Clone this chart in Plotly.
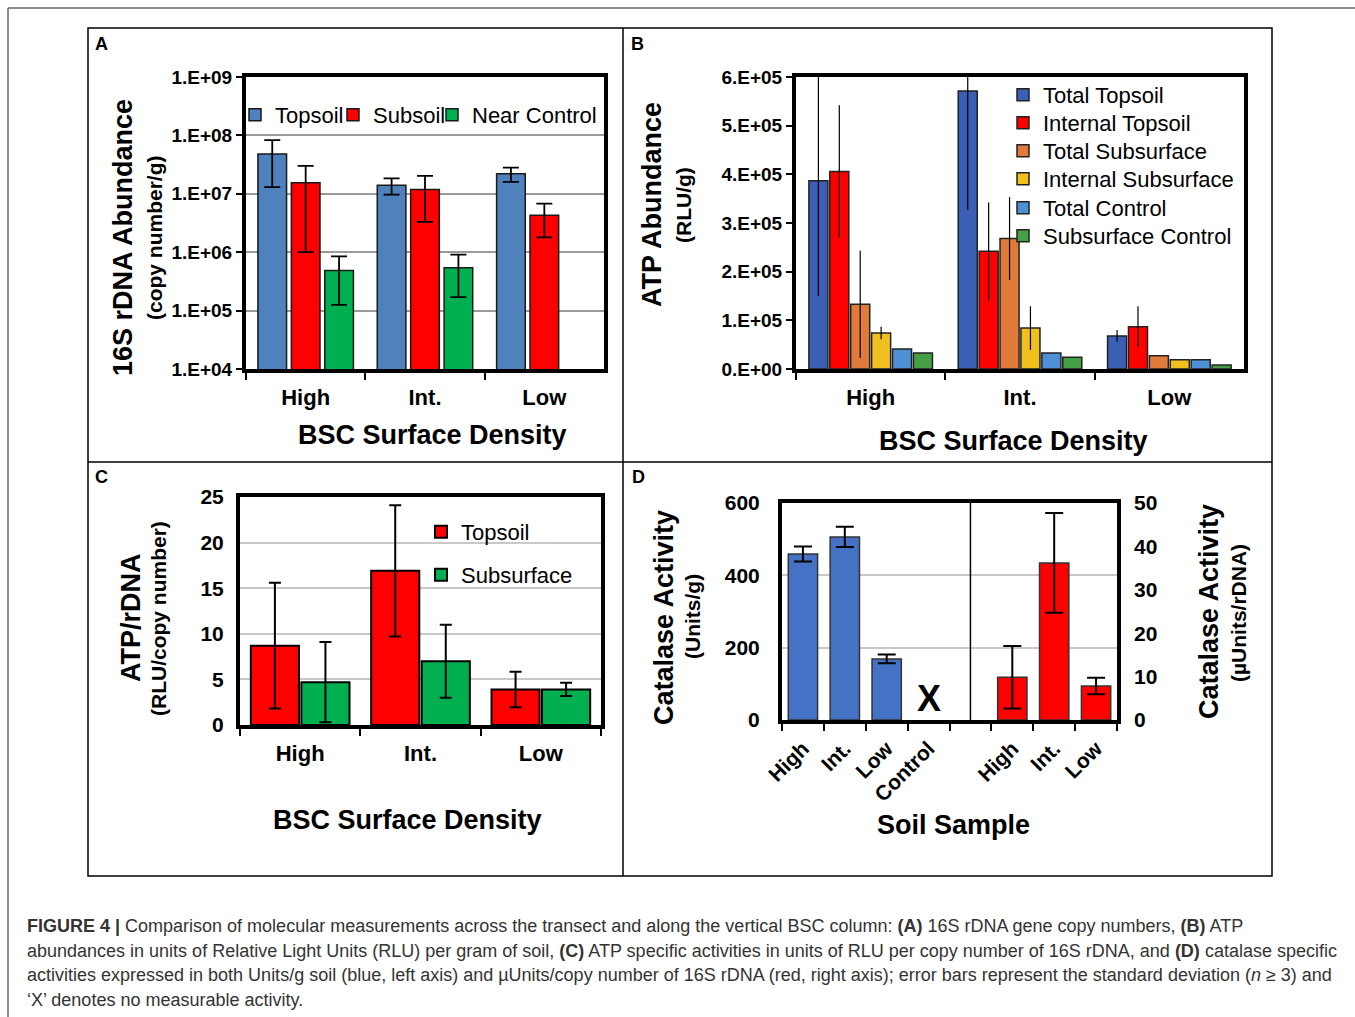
import plotly.graph_objects as go

W, H = 1355, 1017
def fx(px): return px / W
def fy(py): return 1 - py / H

FONT = "Liberation Sans, Arial, Helvetica, sans-serif"

# ---------------- data ----------------
densities = ["High", "Int.", "Low"]

# Panel A: 16S rDNA abundance (copy number / g)
a_names = ["Topsoil", "Subsoil", "Near Control"]
a_topsoil = [4.8e7, 1.4e7, 2.2e7]
a_topsoil_sd = [3.5e7, 4.3e6, 6.0e6]
a_subsoil = [1.55e7, 1.18e7, 4.3e6]
a_subsoil_sd = [1.45e7, 8.5e6, 2.5e6]
a_control = [4.85e5, 5.4e5, None]
a_control_sd = [3.6e5, 3.7e5, 0]
a_tickvals = [1e4, 1e5, 1e6, 1e7, 1e8, 1e9]
a_ticktext = ["1.E+04", "1.E+05", "1.E+06", "1.E+07", "1.E+08", "1.E+09"]

# Panel B: ATP abundance (RLU / g)
b_names = ["Total Topsoil", "Internal Topsoil", "Total Subsurface",
           "Internal Subsurface", "Total Control", "Subsurface Control"]
b_total_topsoil = [387000, 571000, 68000]
b_total_topsoil_sd = [237000, 244000, 12000]
b_internal_topsoil = [406000, 242000, 87000]
b_internal_topsoil_sd = [136000, 100000, 42000]
b_total_subsurface = [133000, 268000, 27000]
b_total_subsurface_sd = [110000, 85000, 0]
b_internal_subsurface = [74000, 84000, 19000]
b_internal_subsurface_sd = [13000, 45000, 0]
b_total_control = [41000, 33000, 19000]
b_total_control_sd = [0, 0, 0]
b_subsurface_control = [33000, 24000, 8000]
b_subsurface_control_sd = [0, 0, 0]
b_tickvals = [0, 100000, 200000, 300000, 400000, 500000, 600000]
b_ticktext = ["0.E+00", "1.E+05", "2.E+05", "3.E+05", "4.E+05", "5.E+05", "6.E+05"]

# Panel C: ATP / rDNA (RLU / copy number)
c_names = ["Topsoil", "Subsurface"]
c_topsoil = [8.7, 16.9, 3.9]
c_topsoil_sd = [6.9, 7.2, 1.95]
c_subsurface = [4.7, 7.0, 3.9]
c_subsurface_sd = [4.4, 4.0, 0.73]

# Panel D: catalase activity
d_labels = ["High", "Int.", "Low", "Control", "", "High", "Int.", "Low"]
d_units_g = [459, 506, 169, None]          # High, Int., Low, Control (X)
d_units_g_sd = [21, 28, 12, 0]
d_units_rdna = [9.85, 36.2, 7.85]          # High, Int., Low
d_units_rdna_sd = [7.2, 11.5, 1.9]

# ---------------- styles ----------------
A_COLORS = ["#4f81bd", "#ff0000", "#00b050"]
B_COLORS = ["#3a5fb5", "#ff0000", "#e07b39", "#f2c01e", "#4e8fd6", "#45a045"]
C_COLORS = ["#ff0000", "#00b050"]
D_COLORS = ["#4472c4", "#ff0000"]

# legend entry placement (text start x, text centre y), in page pixels
A_LEG_POS = [(276, 115), (374, 115), (473, 115)]
B_LEG_POS = [(1044, 95), (1044, 123), (1044, 151), (1044, 179), (1044, 208), (1044, 236)]
C_LEG_POS = [(462, 532), (462, 575)]
LEG_FONT = 22

fig = go.Figure()
legends = {}
leg_count = [0]

def new_legend(pos):
    leg_count[0] += 1
    lid = "legend" if leg_count[0] == 1 else "legend%d" % leg_count[0]
    tx, ty = pos
    legends[lid] = dict(x=fx(tx - 41), y=fy(ty), xanchor="left", yanchor="middle",
                        orientation="v", itemwidth=30,
                        font=dict(family=FONT, size=LEG_FONT, color="black"),
                        bgcolor="rgba(0,0,0,0)", borderwidth=0)
    return lid

# Panel A
for name, vals, sd, col, pos in zip(a_names, [a_topsoil, a_subsoil, a_control],
                                    [a_topsoil_sd, a_subsoil_sd, a_control_sd],
                                    A_COLORS, A_LEG_POS):
    fig.add_trace(go.Bar(
        x=densities, y=vals, name=name, xaxis="x", yaxis="y", legend=new_legend(pos),
        width=0.24,
        marker=dict(color=col, line=dict(color="#1a1a1a", width=1.5)),
        error_y=dict(type="data", array=sd, color="black", thickness=1.8, width=8),
    ))

# Panel B
b_vals = [b_total_topsoil, b_internal_topsoil, b_total_subsurface,
          b_internal_subsurface, b_total_control, b_subsurface_control]
b_sds = [b_total_topsoil_sd, b_internal_topsoil_sd, b_total_subsurface_sd,
         b_internal_subsurface_sd, b_total_control_sd, b_subsurface_control_sd]
for name, vals, sd, col, pos in zip(b_names, b_vals, b_sds, B_COLORS, B_LEG_POS):
    fig.add_trace(go.Bar(
        x=densities, y=vals, name=name, xaxis="x2", yaxis="y2", legend=new_legend(pos),
        marker=dict(color=col, line=dict(color="#222222", width=1.5)),
        error_y=dict(type="data", array=sd, color="black", thickness=1.2, width=0),
    ))

# Panel C
for name, vals, sd, col, pos in zip(c_names, [c_topsoil, c_subsurface],
                                    [c_topsoil_sd, c_subsurface_sd], C_COLORS, C_LEG_POS):
    fig.add_trace(go.Bar(
        x=densities, y=vals, name=name, xaxis="x3", yaxis="y3", legend=new_legend(pos),
        width=0.40,
        marker=dict(color=col, line=dict(color="black", width=2)),
        error_y=dict(type="data", array=sd, color="black", thickness=2, width=6),
    ))

# Panel D
d_slots = list(range(len(d_labels)))
fig.add_trace(go.Bar(
    x=d_slots[0:4], y=d_units_g, name="Units/g", xaxis="x4", yaxis="y4",
    showlegend=False, width=0.7,
    marker=dict(color=D_COLORS[0], line=dict(color="#333333", width=1.5)),
    error_y=dict(type="data", array=d_units_g_sd, color="black", thickness=2, width=9),
))
fig.add_trace(go.Bar(
    x=d_slots[5:8], y=d_units_rdna, name="µUnits/rDNA", xaxis="x4", yaxis="y5",
    showlegend=False, width=0.7,
    marker=dict(color=D_COLORS[1], line=dict(color="#333333", width=1.5)),
    error_y=dict(type="data", array=d_units_rdna_sd, color="black", thickness=2, width=9),
))

# ---------------- axes ----------------
tickfont = dict(family=FONT, size=22, color="black", weight="bold")
ytickfont = dict(family=FONT, size=19, color="black", weight="bold")
frame = dict(showline=True, linewidth=4, linecolor="black", mirror=True)

layout = dict(
    width=W, height=H, autosize=False,
    margin=dict(l=0, r=0, t=0, b=0, pad=0, autoexpand=False),
    paper_bgcolor="white", plot_bgcolor="white",
    barmode="group", bargap=0.16, bargroupgap=0.09,
    font=dict(family=FONT, color="black"),
    xaxis=dict(domain=[fx(246), fx(604)], anchor="y", type="category",
               tickson="boundaries", ticks="outside", ticklen=7, tickwidth=2,
               tickcolor="black", tickfont=tickfont,
               ticklabelstandoff=6, **frame),
    yaxis=dict(domain=[fy(369), fy(77)], anchor="x", type="log", range=[4, 9],
               tickmode="array", tickvals=a_tickvals, ticktext=a_ticktext,
               showgrid=True, gridcolor="#9a9a9a", gridwidth=1.5,
               ticks="outside", ticklen=6, tickwidth=2, tickcolor="black",
               tickfont=ytickfont, **frame),
    xaxis2=dict(domain=[fx(796), fx(1244)], anchor="y2", type="category",
                tickson="boundaries", ticks="outside", ticklen=7, tickwidth=2,
                tickcolor="black", tickfont=tickfont,
                ticklabelstandoff=6, **frame),
    yaxis2=dict(domain=[fy(369), fy(77)], anchor="x2", range=[0, 600000],
                tickmode="array", tickvals=b_tickvals, ticktext=b_ticktext,
                showgrid=False, zeroline=False,
                ticks="outside", ticklen=6, tickwidth=2, tickcolor="black",
                tickfont=ytickfont, **frame),
    xaxis3=dict(domain=[fx(240), fx(601)], anchor="y3", type="category",
                tickson="boundaries", ticks="outside", ticklen=7, tickwidth=2,
                tickcolor="black", tickfont=tickfont,
                ticklabelstandoff=6, **frame),
    yaxis3=dict(domain=[fy(725), fy(497)], anchor="x3", range=[0, 25], dtick=5,
                showgrid=True, gridcolor="#c8c8c8", gridwidth=1.5, zeroline=False,
                ticks="", tickfont=dict(ytickfont, size=21), ticklabelstandoff=8,
                **frame),
    xaxis4=dict(domain=[fx(782), fx(1117)], anchor="y4", range=[-0.5, 7.5],
                tickmode="array", tickvals=d_slots, ticktext=d_labels,
                tickangle=-45, ticks="", showgrid=False, zeroline=False,
                minor=dict(tick0=0.5, dtick=1, ticks="outside", ticklen=7,
                           tickwidth=2, tickcolor="black", showgrid=False),
                tickfont=dict(tickfont, size=21), ticklabelstandoff=4, **frame),
    yaxis4=dict(domain=[fy(720), fy(503)], anchor="x4", range=[0, 600], dtick=200,
                showgrid=True, gridcolor="#c8c8c8", gridwidth=1.5, zeroline=False,
                ticks="", tickfont=dict(ytickfont, size=21), ticklabelstandoff=14,
                **frame),
    yaxis5=dict(overlaying="y4", side="right", anchor="x4", range=[0, 50], dtick=10,
                showgrid=False, zeroline=False, ticks="",
                tickfont=dict(ytickfont, size=21), ticklabelstandoff=16),
)
layout.update(legends)
fig.update_layout(**layout)

# ---------------- shapes ----------------
shapes = [
    # outer image frame (top and left edges)
    dict(type="line", xref="paper", yref="paper", x0=fx(8), x1=1, y0=fy(8), y1=fy(8),
         line=dict(color="#666666", width=1.5)),
    dict(type="line", xref="paper", yref="paper", x0=fx(8), x1=fx(8), y0=fy(8), y1=0,
         line=dict(color="#666666", width=1.5)),
    # panel grid
    dict(type="rect", xref="paper", yref="paper", x0=fx(88), x1=fx(1272), y0=fy(876),
         y1=fy(28), line=dict(color="black", width=1.5)),
    dict(type="line", xref="paper", yref="paper", x0=fx(623), x1=fx(623), y0=fy(876),
         y1=fy(28), line=dict(color="black", width=1.5)),
    dict(type="line", xref="paper", yref="paper", x0=fx(88), x1=fx(1272), y0=fy(462),
         y1=fy(462), line=dict(color="black", width=1.5)),
    # divider inside panel D
    dict(type="line", xref="x4", yref="y4 domain", x0=d_slots[4], x1=d_slots[4],
         y0=0, y1=1, line=dict(color="black", width=1.5)),
]
fig.update_layout(shapes=shapes)

# ---------------- annotations ----------------
ann = []
def text(x, y, t, size, bold=True, angle=0, xanchor="center", yanchor="middle",
         color="black", ref="paper", xref=None, yref=None):
    ann.append(dict(x=x, y=y, text=t, showarrow=False, textangle=angle,
                    xanchor=xanchor, yanchor=yanchor,
                    xref=xref or ref, yref=yref or ref,
                    font=dict(family=FONT, size=size, color=color,
                              weight="bold" if bold else "normal")))

# panel letters
text(fx(101), fy(44), "A", 18)
text(fx(637), fy(44), "B", 18)
text(fx(101), fy(477), "C", 18)
text(fx(638), fy(477), "D", 18)

# Panel A titles
text(fx(123), fy(238), "16S rDNA Abundance", 27, angle=-90)
text(fx(154), fy(238), "(copy number/g)", 21, angle=-90)
text(fx(432), fy(435), "BSC Surface Density", 27)

# Panel B titles
text(fx(652), fy(205), "ATP Abundance", 27, angle=-90)
text(fx(683), fy(205), "(RLU/g)", 21, angle=-90)
text(fx(1013), fy(441), "BSC Surface Density", 27)

# Panel C titles
text(fx(131), fy(618), "ATP/rDNA", 27, angle=-90)
text(fx(158), fy(619), "(RLU/copy number)", 21, angle=-90)
text(fx(408), fy(820), "BSC Surface Density", 27)

# Panel D titles
text(fx(664), fy(618), "Catalase Activity", 27, angle=-90)
text(fx(692), fy(617), "(Units/g)", 21, angle=-90)
text(fx(1209), fy(612), "Catalase Activity", 27, angle=-90)
text(fx(1238), fy(613), "(µUnits/rDNA)", 21, angle=-90)
text(fx(953), fy(825), "Soil Sample", 27)
# 'X' = no measurable activity for Control
text(d_slots[3], 60, "X", 36, xref="x4", yref="y4")

# caption
cap = [
    "<b>FIGURE 4 |</b> Comparison of molecular measurements across the transect and along the vertical BSC column: <b>(A)</b> 16S rDNA gene copy numbers, <b>(B)</b> ATP",
    "abundances in units of Relative Light Units (RLU) per gram of soil, <b>(C)</b> ATP specific activities in units of RLU per copy number of 16S rDNA, and <b>(D)</b> catalase specific",
    "activities expressed in both Units/g soil (blue, left axis) and µUnits/copy number of 16S rDNA (red, right axis); error bars represent the standard deviation (<i>n</i> ≥ 3) and",
    "‘X’ denotes no measurable activity.",
]
for i, line in enumerate(cap):
    text(fx(25), fy(926 + 24.7 * i), line, 18, bold=False, xanchor="left",
         color="#333333")

fig.update_layout(annotations=ann)

fig.write_html("out.html")
